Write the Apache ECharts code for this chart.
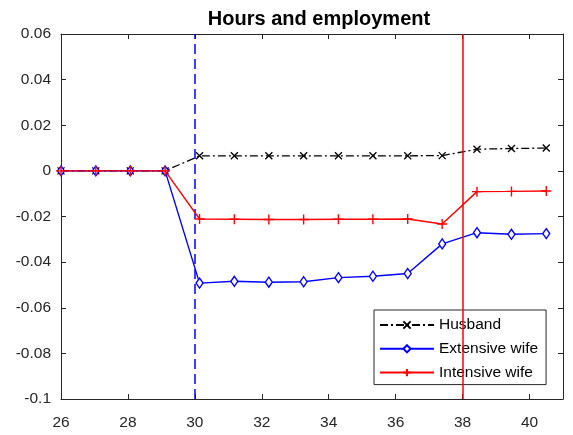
<!DOCTYPE html>
<html>
<head>
<meta charset="utf-8">
<script src="https://cdn.jsdelivr.net/npm/echarts@6/dist/echarts.min.js"></script>
<style>html,body{margin:0;padding:0;background:#fff;}#c{width:573px;height:435px;}</style>
</head>
<body>
<div id="c"></div>
<script>
const ages = [26, 27.04, 28.07, 29.11, 30.14, 31.18, 32.21, 33.25, 34.29, 35.32, 36.36, 37.39, 38.43, 39.46, 40.5];
const husband = [0, 0, 0, 0, 0.0066, 0.0066, 0.0066, 0.0066, 0.0066, 0.0066, 0.0066, 0.0067, 0.0095, 0.0098, 0.0100];
const extensiveWife = [0, 0, 0, 0, -0.0492, -0.0484, -0.0488, -0.0486, -0.0468, -0.0462, -0.0450, -0.0320, -0.0271, -0.0278, -0.0275];
const intensiveWife = [0, 0, 0, 0, -0.0211, -0.0212, -0.0213, -0.0213, -0.0212, -0.0212, -0.0211, -0.0233, -0.0091, -0.0090, -0.0088];
const seriesNames = ['Husband', 'Extensive wife', 'Intensive wife'];
const vlineBlue = 30;
const vlineRed = 38;

const pair = (ys) => ages.map((a, i) => [a, ys[i]]);
const axisCol = '#262626';
const fontFam = '"Liberation Sans", Arial, sans-serif';

const chart = echarts.init(document.getElementById('c'), null, {renderer: 'canvas'});
chart.setOption({
  animation: false,
  backgroundColor: '#fff',
  title: {
    text: 'Hours and employment',
    left: 314, textAlign: 'center', top: 4,
    textStyle: {fontFamily: fontFam, fontWeight: 'bold', fontSize: 20, color: '#000'}
  },
  grid: {left: 61, top: 34, right: 10, bottom: 36, show: false},
  legend: {
    data: seriesNames,
    orient: 'vertical',
    left: 374, top: 310,
    backgroundColor: '#fff',
    borderColor: axisCol, borderWidth: 1,
    padding: [7, 8, 4, 5],
    itemWidth: 54, itemHeight: 9, itemGap: 7.8,
    textStyle: {fontFamily: fontFam, fontSize: 15.5, color: '#000', lineHeight: 14}
  },
  xAxis: [{
    type: 'value', min: 26, max: 41, interval: 2,
    axisLine: {show: true, onZero: false, lineStyle: {color: axisCol, width: 1}},
    axisTick: {show: true, inside: true, length: 5, lineStyle: {color: axisCol}},
    axisLabel: {fontFamily: fontFam, fontSize: 15.5, color: axisCol, margin: 16,
      formatter: v => (v > 40.5 ? '' : String(v))},
    splitLine: {show: false}
  }, {
    type: 'value', position: 'top', min: 26, max: 41, interval: 2,
    axisLine: {show: true, onZero: false, lineStyle: {color: axisCol, width: 1}},
    axisTick: {show: true, inside: true, length: 5, lineStyle: {color: axisCol}},
    axisLabel: {show: false}, splitLine: {show: false}
  }],
  yAxis: [{
    type: 'value', min: -0.1, max: 0.06, interval: 0.02,
    axisLine: {show: true, onZero: false, lineStyle: {color: axisCol, width: 1}},
    axisTick: {show: true, inside: true, length: 5, lineStyle: {color: axisCol}},
    axisLabel: {fontFamily: fontFam, fontSize: 15.5, color: axisCol, margin: 10,
      formatter: v => String(Math.round(v * 100) / 100)},
    splitLine: {show: false}
  }, {
    type: 'value', position: 'right', min: -0.1, max: 0.06, interval: 0.02,
    axisLine: {show: true, onZero: false, lineStyle: {color: axisCol, width: 1}},
    axisTick: {show: true, inside: true, length: 5, lineStyle: {color: axisCol}},
    axisLabel: {show: false}, splitLine: {show: false}
  }],
  series: [{
    name: seriesNames[0], type: 'line', data: pair(husband),
    symbol: 'path://M0,0L10,10M0,10L10,0', symbolSize: 7,
    showAllSymbol: true,
    itemStyle: {color: '#000', borderColor: '#000', borderWidth: 1.3},
    lineStyle: {color: '#000', width: 1.3, type: [8, 3, 2, 3]},
    z: 3
  }, {
    name: seriesNames[1], type: 'line', data: pair(extensiveWife),
    symbol: 'diamond', symbolSize: [7, 10],
    showAllSymbol: true,
    itemStyle: {color: '#fff', borderColor: '#0000ff', borderWidth: 1.4},
    lineStyle: {color: '#0000ff', width: 1.4},
    z: 4
  }, {
    name: seriesNames[2], type: 'line', data: pair(intensiveWife),
    symbol: 'path://M5,0L5,10M0,5L10,5', symbolSize: 10,
    showAllSymbol: true,
    itemStyle: {color: '#ff0000', borderColor: '#ff0000', borderWidth: 1.4},
    lineStyle: {color: '#ff0000', width: 1.4},
    z: 5,
    markLine: {
      silent: true, symbol: ['none', 'none'], label: {show: false},
      animation: false,
      data: [
        {xAxis: vlineBlue, lineStyle: {color: '#0000ff', width: 1.5, type: [10, 5]}},
        {xAxis: vlineRed, lineStyle: {color: '#ff0000', width: 1.5, type: 'solid'}}
      ]
    }
  }]
});
</script>
</body>
</html>
